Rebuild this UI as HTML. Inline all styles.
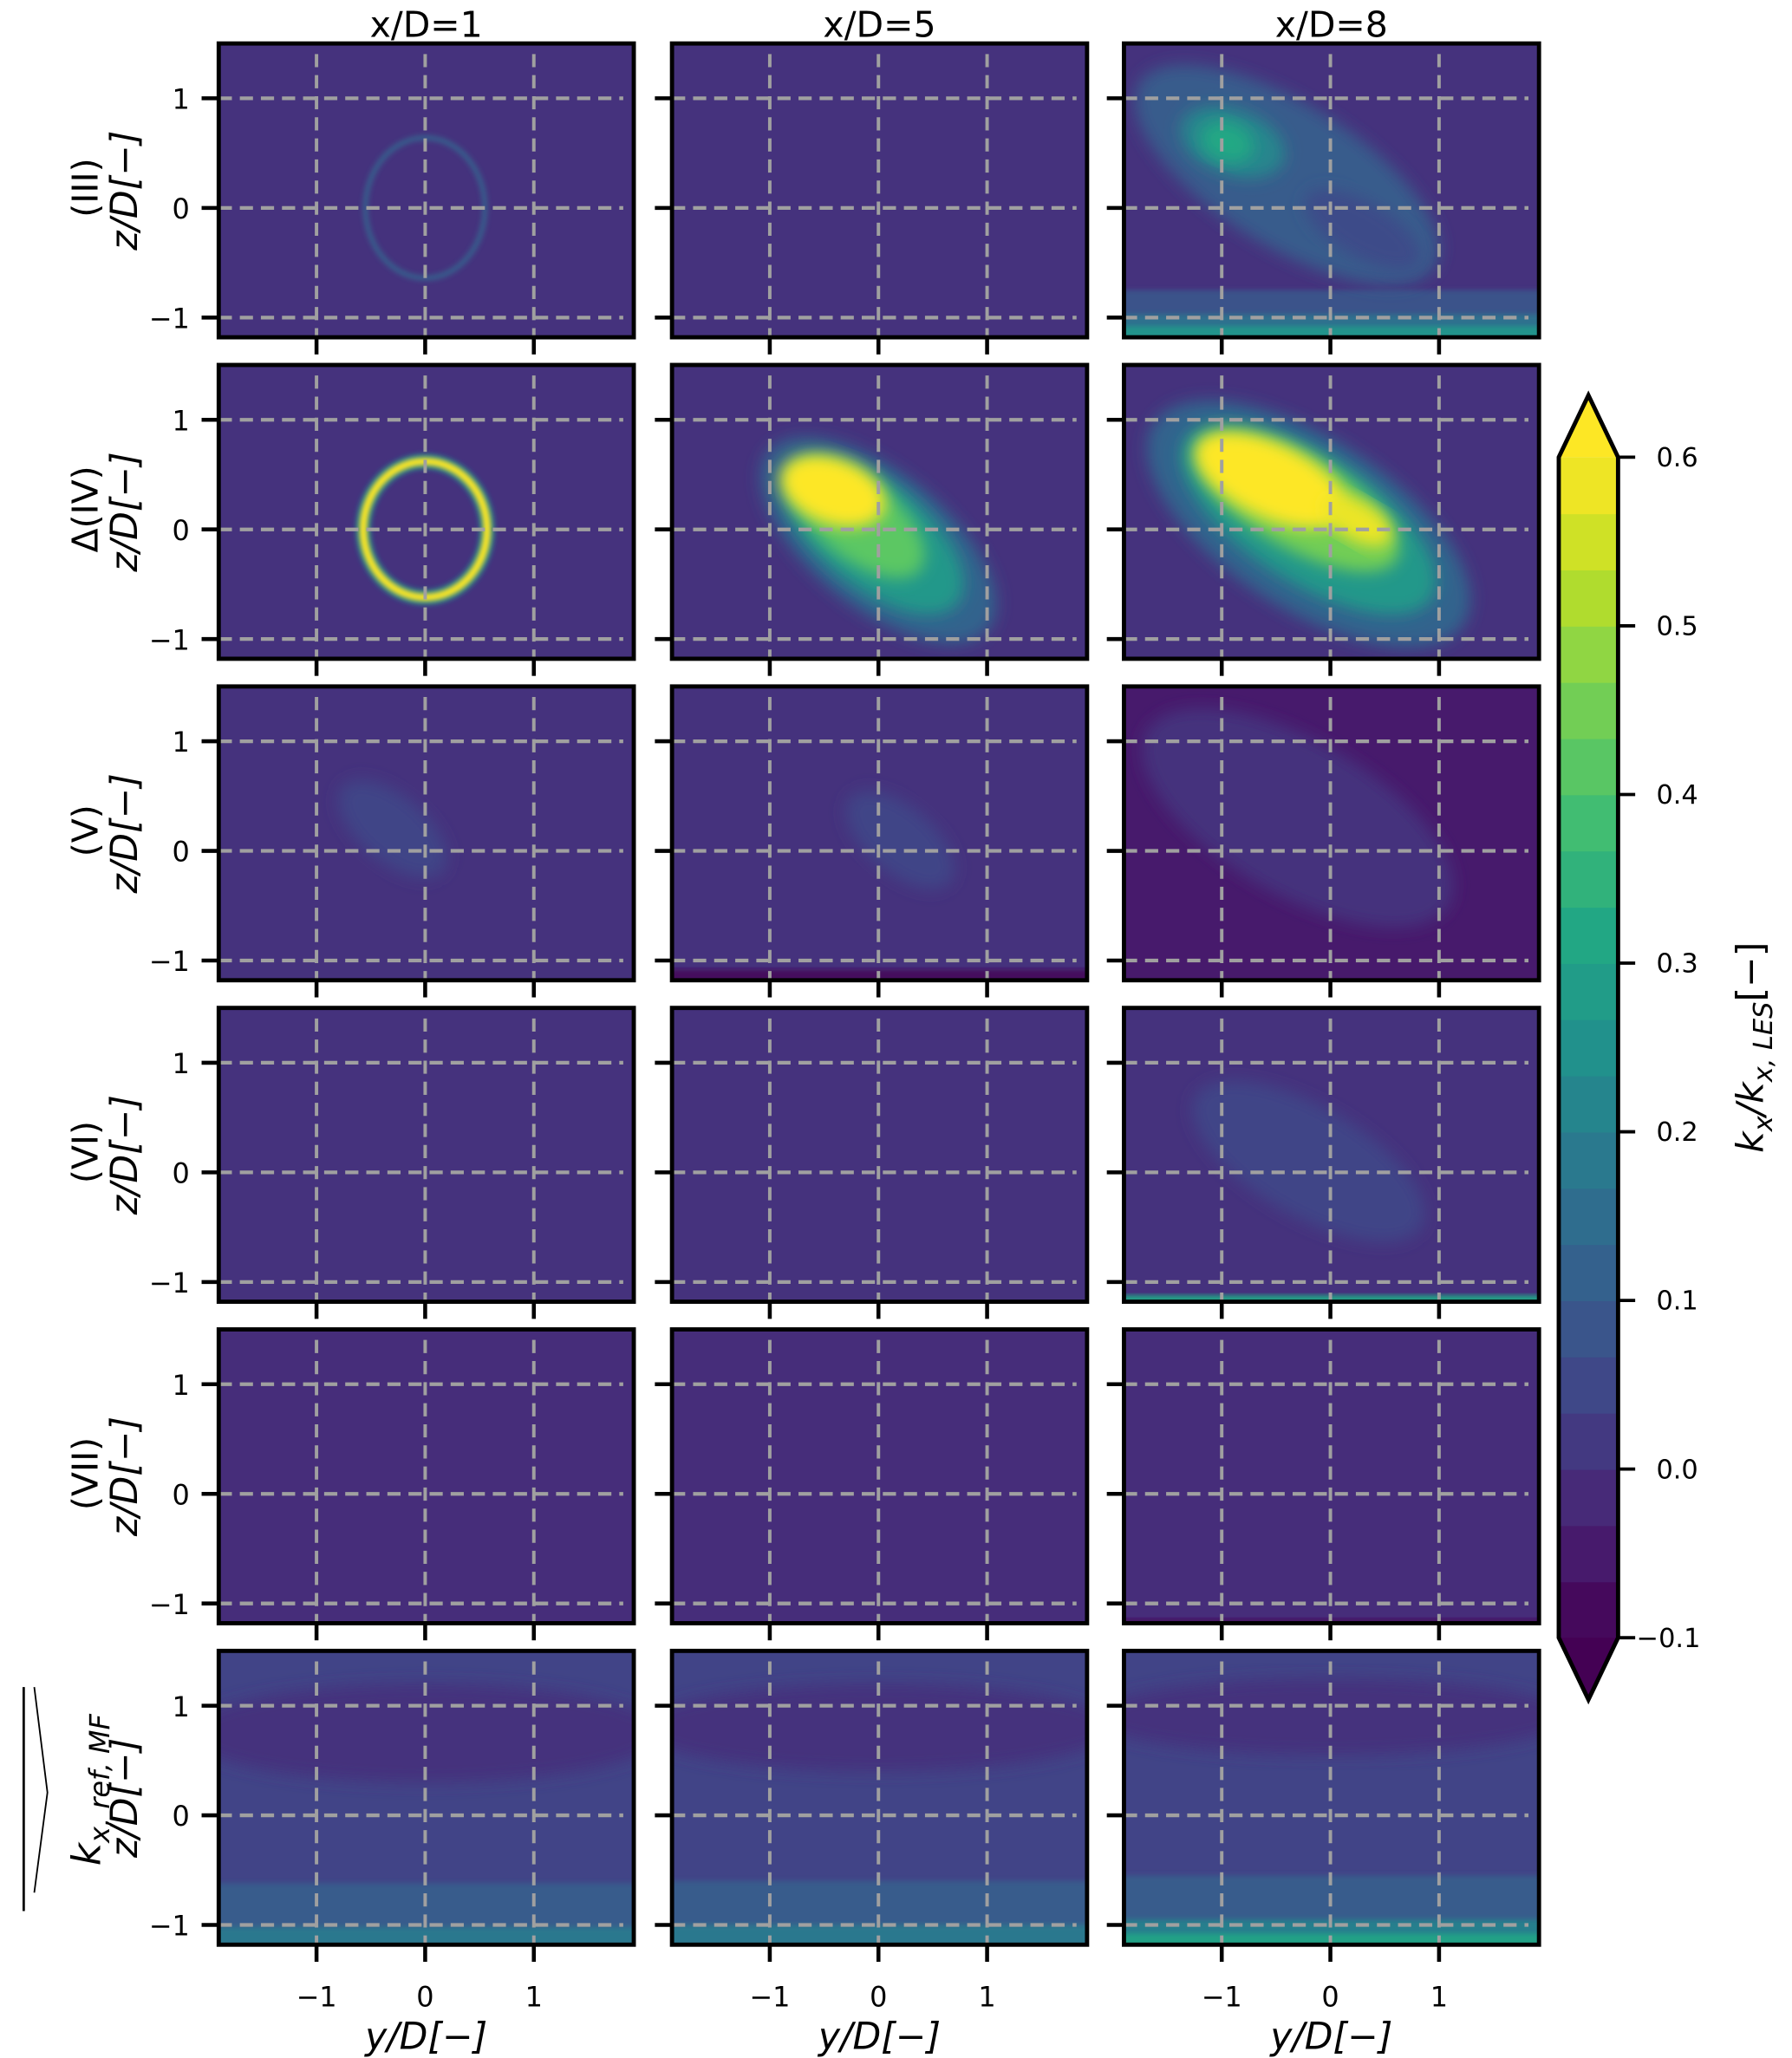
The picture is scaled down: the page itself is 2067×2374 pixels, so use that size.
<!DOCTYPE html>
<html><head><meta charset="utf-8"><style>
html,body{margin:0;padding:0;background:#fff}
svg{display:block}
text{font-family:"DejaVu Sans","Liberation Sans",sans-serif;fill:#000}
</style></head><body>
<svg id="fig" width="2067" height="2374" viewBox="0 0 1360 1562" xmlns="http://www.w3.org/2000/svg">
<defs>
<filter id="soft" x="-20%" y="-20%" width="140%" height="140%"><feGaussianBlur stdDeviation="6"/></filter>
<filter id="soft2" x="-20%" y="-20%" width="140%" height="140%"><feGaussianBlur stdDeviation="2"/></filter>
</defs>
<g id="panels"></g>
<g id="cbar"></g>
<g id="labels"></g>
</svg>
<script>
// ---- data ----
const colTitles = ["x/D=1","x/D=5","x/D=8"];
const rowNames = ["(III)","\u0394(IV)","(V)","(VI)","(VII)",""];
const yTicks = [-1,0,1];
const zTicks = [-1,0,1];
const cbarTicks = [-0.1,0.0,0.1,0.2,0.3,0.4,0.5,0.6];
// base field value of each panel (row-major)
const baseValues = [0.0,0.0,0.0, 0.0,0.0,0.0, 0.0,0.0,-0.05, 0.0,0.0,0.0, -0.01,-0.01,-0.01, 0.04,0.04,0.04];
// blobs: panel, y, z, semi-axis-a (y/D), semi-axis-b (z/D), angle, value
const blobPanel = [2,2,2,2, 4,4,4,4, 5,5,5,5,5, 8, 11, 15,16,17, 6,7];
const blobY     = [-0.4,-0.9,-0.95,0.3, 0,-0.05,-0.2,-0.42, -0.2,-0.2,-0.3,-0.55,0.25, -0.3, -0.2, 0,0,0, -0.3,0.2];
const blobZ     = [0.3,0.6,0.6,-0.2, -0.1,-0.05,0.1,0.35, 0.05,0.1,0.25,0.45,0.08, 0.3, 0.1, 0.75,0.8,0.9, 0.2,0.1];
const blobA     = [1.6,0.5,0.25,0.6, 1.3,1.0,0.75,0.5, 1.7,1.35,1.05,0.75,0.35, 1.6, 1.2, 2.2,2.2,2.2, 0.6,0.6];
const blobB     = [0.65,0.3,0.18,0.25, 0.62,0.48,0.36,0.3, 0.78,0.58,0.42,0.34,0.18, 0.7, 0.5, 0.45,0.4,0.35, 0.3,0.3];
const blobAng   = [32,20,20,30, 39,39,39,20, 33,33,30,25,30, 30, 30, 0,0,0, 40,40];
const blobVal   = [0.1,0.22,0.32,0.06, 0.12,0.27,0.42,0.62, 0.12,0.27,0.45,0.62,0.58, 0.0, 0.04, 0.0,0.0,0.0, 0.04,0.04];
// horizontal strips: panel, z-top, z-bottom, value
const stripPanel = [2,2,2, 7, 11, 14, 15,15, 16,16, 17,17,17];
const stripTop   = [-0.75,-0.97,-1.08, -1.08, -1.12, -1.14, -0.62,-1.02, -0.6,-1.0, -0.55,-0.95,-1.08];
const stripBot   = [-1.2,-1.2,-1.2, -1.2, -1.2, -1.2, -1.2,-1.2, -1.2,-1.2, -1.2,-1.2,-1.2];
const stripVal   = [0.08,0.16,0.26, -0.08, 0.3, -0.08, 0.1,0.18, 0.1,0.18, 0.1,0.2,0.3];
// rings: panel, ry, rz, value, width(y/D)
const ringPanel = [0,3,3];
const ringRy = [0.55,0.57,0.57];
const ringRz = [0.64,0.62,0.62];
const ringVal = [0.1,0.2,0.62];
const ringW = [0.05,0.14,0.07];

// ---- layout ----
const colX = [[166,481],[510,825],[853,1168]];
const rowY = [[33,256],[277,500],[521,744],[765,988],[1009,1232],[1253,1476]];
const yMin=-1.9, yMax=1.92, zMin=-1.18, zMax=1.5;
const NS="http://www.w3.org/2000/svg";
const stops=["#440154","#482475","#414487","#355f8d","#2a788e","#21918c","#22a884","#44bf70","#7ad151","#bddf26","#fde725"];
function hx(c){return [1,3,5].map(i=>parseInt(c.substr(i,2),16));}
function viridis(v){
  let t=(v+0.1)/0.7; t=Math.max(0,Math.min(1,t));
  const f=t*10, i=Math.min(9,Math.floor(f)), r=f-i;
  const a=hx(stops[i]), b=hx(stops[i+1]);
  return "rgb("+a.map((x,k)=>Math.round(x+(b[k]-x)*r)).join(",")+")";
}
function el(tag,attrs,parent){const e=document.createElementNS(NS,tag);for(const k in attrs)e.setAttribute(k,attrs[k]);parent.appendChild(e);return e;}
function sx(c,y){const[x0,x1]=colX[c];return x0+(y-yMin)/(yMax-yMin)*(x1-x0);}
function sz(r,z){const[y0,y1]=rowY[r];return y1-(z-zMin)/(zMax-zMin)*(y1-y0);}

const P=document.getElementById("panels");
for(let r=0;r<6;r++)for(let c=0;c<3;c++){
  const idx=r*3+c;
  const [x0,x1]=colX[c],[y0,y1]=rowY[r];
  const g=el("g",{},P);
  
  
  const cp=el("clipPath",{id:"cp"+idx},g);
  el("rect",{x:x0,y:y0,width:x1-x0,height:y1-y0},cp);
  const fld=el("g",{"clip-path":"url(#cp"+idx+")"},g);
  el("rect",{x:x0,y:y0,width:x1-x0,height:y1-y0,fill:viridis(baseValues[idx])},fld);
  for(let i=0;i<stripPanel.length;i++){ if(stripPanel[i]!==idx)continue;
    const s=el("rect",{x:x0-10,y:sz(r,stripTop[i]),width:x1-x0+20,height:sz(r,stripBot[i])-sz(r,stripTop[i]),fill:viridis(stripVal[i]),filter:"url(#soft2)"},fld);
    
    
  }
  for(let i=0;i<blobPanel.length;i++){ if(blobPanel[i]!==idx)continue;
    const cx=sx(c,blobY[i]), cy=sz(r,blobZ[i]);
    const rx=blobA[i]*(x1-x0)/(yMax-yMin), ry=blobB[i]*(y1-y0)/(zMax-zMin);
    const b=el("ellipse",{cx:cx,cy:cy,rx:rx,ry:ry,fill:viridis(blobVal[i]),transform:"rotate("+blobAng[i]+" "+cx+" "+cy+")",filter:"url(#soft)"},fld);
    
    
  }
  for(let i=0;i<ringPanel.length;i++){ if(ringPanel[i]!==idx)continue;
    const kx=(x1-x0)/(yMax-yMin), kz=(y1-y0)/(zMax-zMin);
    const rg=el("ellipse",{cx:sx(c,0),cy:sz(r,0),rx:ringRy[i]*kx,ry:ringRz[i]*kz,fill:"none",stroke:viridis(ringVal[i]),"stroke-width":ringW[i]*kx,filter:"url(#soft2)"},fld);
    
    
  }
  // grid
  for(const t of yTicks){const gl=el("line",{x1:sx(c,t),x2:sx(c,t),y1:y0+8,y2:y1,stroke:"#a0a0a0","stroke-width":2.6,"stroke-dasharray":"10,6"},g);
    }
  for(const t of zTicks){const gl=el("line",{x1:x0,x2:x1-8,y1:sz(r,t),y2:sz(r,t),stroke:"#a0a0a0","stroke-width":2.8,"stroke-dasharray":"10,6"},g);
    }
  const fr=el("rect",{x:x0,y:y0,width:x1-x0,height:y1-y0,fill:"none",stroke:"#000","stroke-width":3.2},g);
  
  for(const t of yTicks){const tk=el("line",{x1:sx(c,t),x2:sx(c,t),y1:y1,y2:y1+13,stroke:"#000","stroke-width":3},g);
    
    if(r===5){const tl=el("text",{x:sx(c,t),y:y1+47,"text-anchor":"middle","font-size":21},g);tl.textContent=t<0?"\u2212"+(-t):String(t);
      }}
  for(const t of zTicks){const tk=el("line",{x1:x0-13,x2:x0,y1:sz(r,t),y2:sz(r,t),stroke:"#000","stroke-width":3},g);
    
    if(c===0){const tl=el("text",{x:x0-22,y:sz(r,t)+8,"text-anchor":"end","font-size":21},g);tl.textContent=t<0?"\u2212"+(-t):String(t);
      }}
}
// labels
const L=document.getElementById("labels");
for(let c=0;c<3;c++){
  const t=el("text",{x:(colX[c][0]+colX[c][1])/2,y:28,"text-anchor":"middle","font-size":27},L);t.textContent=colTitles[c];
  
  const xl=el("text",{x:(colX[c][0]+colX[c][1])/2,y:1555,"text-anchor":"middle","font-size":28,"font-style":"italic"},L);
  xl.textContent="y/D[\u2212]";
  
}
for(let r=0;r<6;r++){
  const cy=(rowY[r][0]+rowY[r][1])/2;
  const zl=el("text",{x:0,y:0,"text-anchor":"middle","font-size":28,"font-style":"italic",transform:"translate(104 "+cy+") rotate(-90)"},L);
  zl.textContent="z/D[\u2212]";
  
  if(rowNames[r]){
    const rl=el("text",{x:0,y:0,"text-anchor":"middle","font-size":27,transform:"translate(74 "+(cy-2)+") rotate(-90)"},L);
    rl.textContent=rowNames[r];
    
  }
}
// last row special label
{const cy=(rowY[5][0]+rowY[5][1])/2;
 const g=el("g",{transform:"translate(76 "+(cy-6)+") rotate(-90)"},L);
 
 const t=el("text",{x:0,y:0,"text-anchor":"middle","font-size":30,"font-style":"italic"},g);
 t.innerHTML='k<tspan font-size="21" dy="7">x, ref, MF</tspan>';
 el("line",{x1:-92,x2:78,y1:-58,y2:-58,stroke:"#000","stroke-width":1.8},g);
 el("polyline",{points:"-78,-50 -2,-40 78,-50",fill:"none",stroke:"#000","stroke-width":1.2},g);}
// colorbar
const C=document.getElementById("cbar");
const cbX0=1183,cbX1=1228,cbTop=347,cbBot=1243,tip=47;
function cy(v){return cbBot-(v+0.1)/0.7*(cbBot-cbTop);}
const nb=21;
for(let i=0;i<nb;i++){
  const v0=-0.1+i*0.7/nb, v1=v0+0.7/nb;
  const b=el("rect",{x:cbX0,y:cy(v1),width:cbX1-cbX0,height:cy(v0)-cy(v1)+0.6,fill:viridis((v0+v1)/2)},C);
  
}
el("polygon",{points:cbX0+","+cbTop+" "+(cbX0+cbX1)/2+","+(cbTop-tip)+" "+cbX1+","+cbTop,fill:viridis(0.65)},C);
el("polygon",{points:cbX0+","+cbBot+" "+(cbX0+cbX1)/2+","+(cbBot+tip)+" "+cbX1+","+cbBot,fill:viridis(-0.15)},C);
const ob=el("polygon",{points:[cbX0+","+cbTop,(cbX0+cbX1)/2+","+(cbTop-tip),cbX1+","+cbTop,cbX1+","+cbBot,(cbX0+cbX1)/2+","+(cbBot+tip),cbX0+","+cbBot].join(" "),fill:"none",stroke:"#000","stroke-width":3.2},C);

for(const t of cbarTicks){
  const tk=el("line",{x1:cbX1,x2:cbX1+13,y1:cy(t),y2:cy(t),stroke:"#000","stroke-width":2.5},C);
  
  const tl=el("text",{x:cbX1+14+(t<0?0:15),y:cy(t)+7,"font-size":20},C);
  tl.textContent=(t<0?"\u2212":"")+Math.abs(t).toFixed(1);
  
}
const cl=el("text",{x:0,y:0,"text-anchor":"middle","font-size":28,"font-style":"italic",transform:"translate(1338 795) rotate(-90)"},C);
cl.innerHTML='k<tspan font-size="20" dy="7">x</tspan><tspan dy="-7">/k</tspan><tspan font-size="20" dy="7">x, LES</tspan><tspan dy="-7" font-style="normal">[\u2212]</tspan>';

</script>
</body></html>
